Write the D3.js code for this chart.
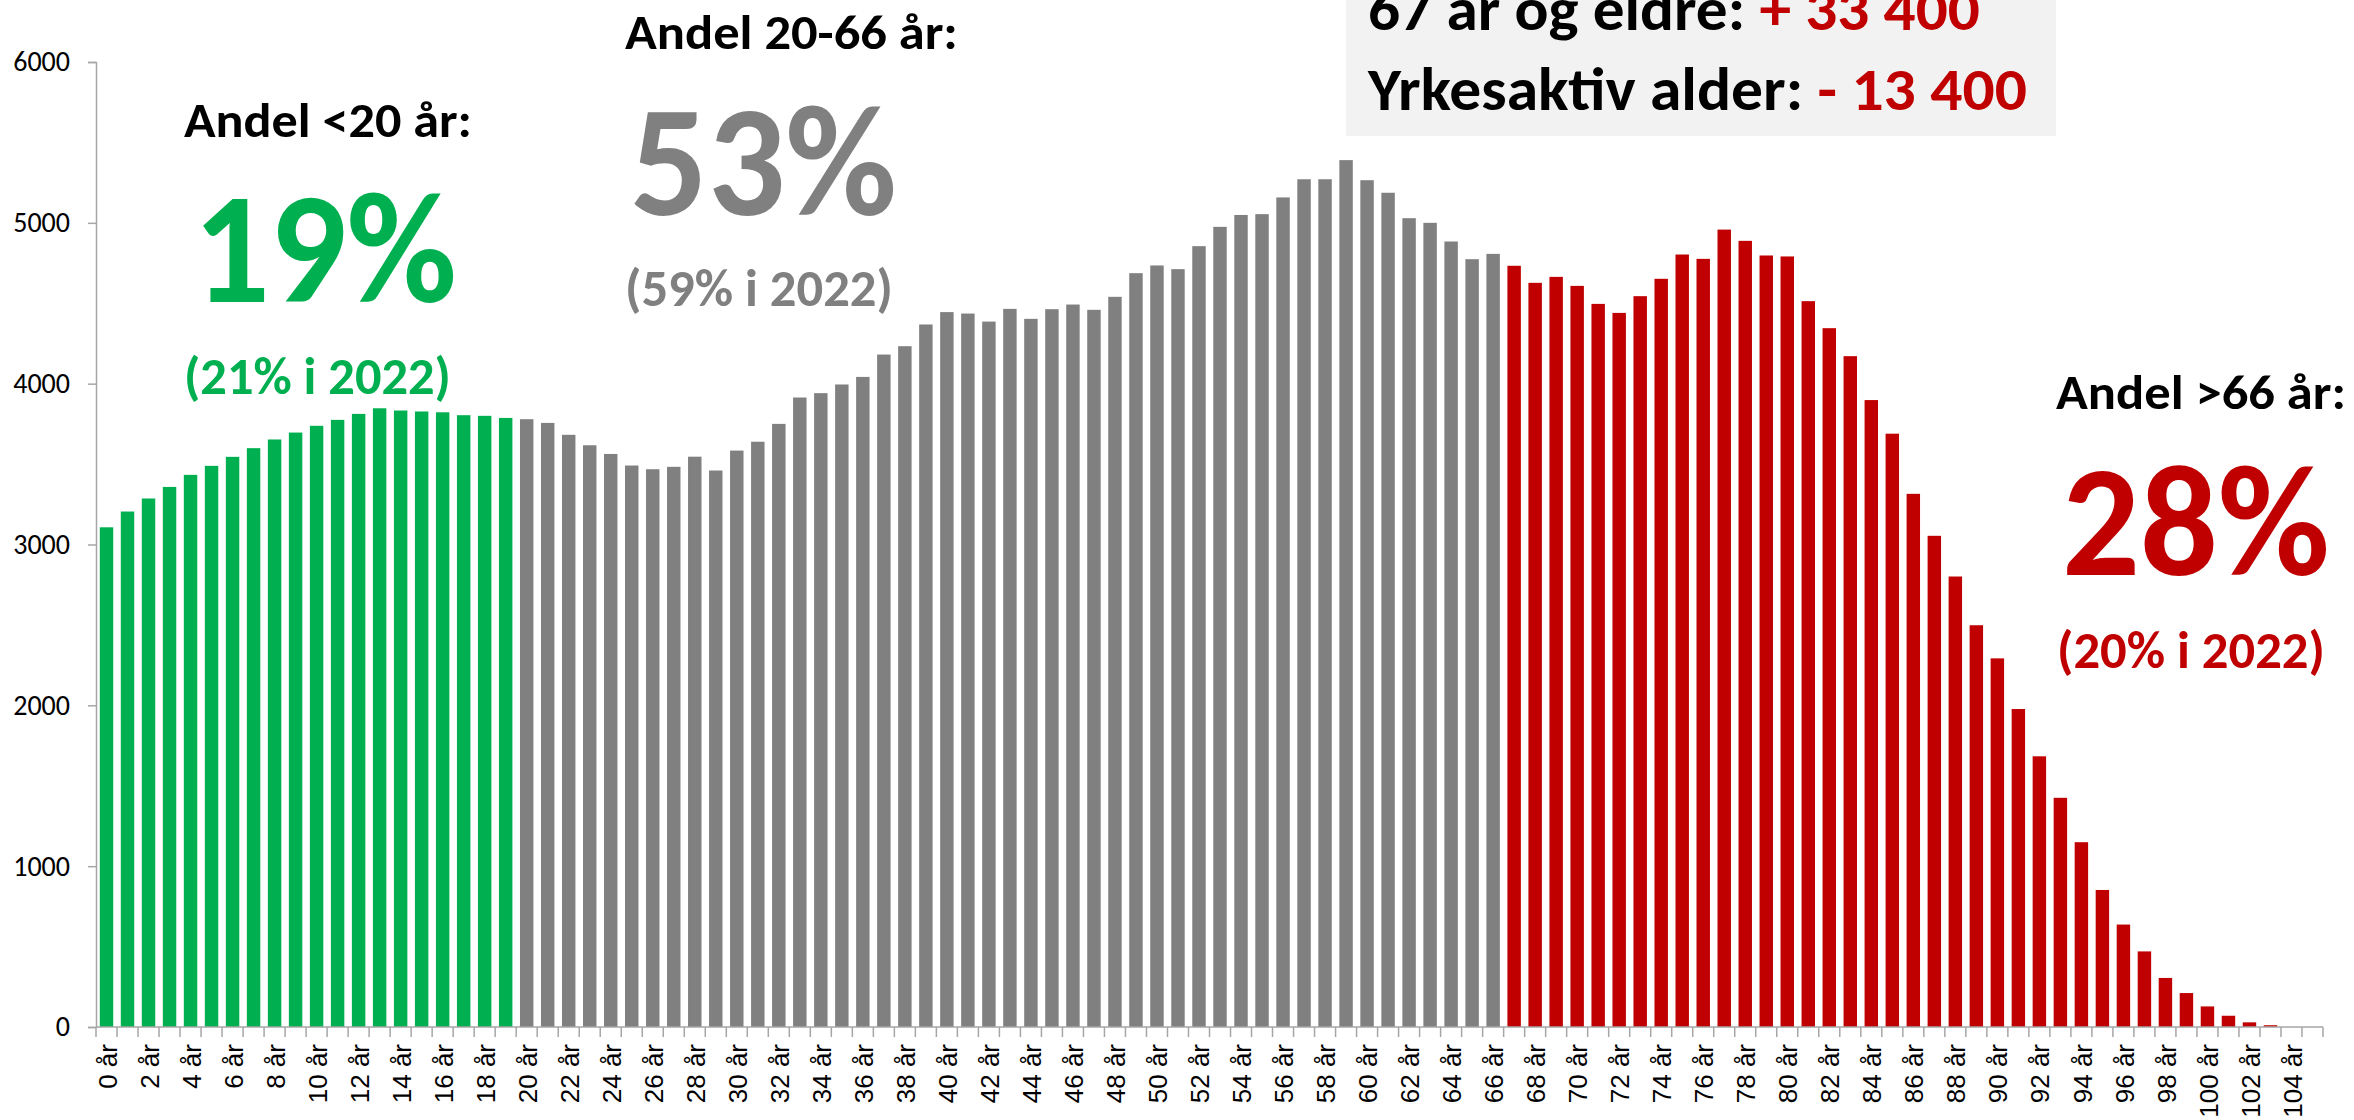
<!DOCTYPE html>
<html>
<head>
<meta charset="utf-8">
<script src="https://cdn.jsdelivr.net/npm/d3@7"></script>
<style>
  body { margin: 0; background: #fff; }
  svg { display: block; }
</style>
</head>
<body>
<script>
// befolkning etter alder (ettårig), lest av figuren
var ages = d3.range(0, 106);
var persons = [
  3107, 3205, 3286, 3358, 3433, 3489, 3545, 3599, 3653, 3696,
  3738, 3775, 3812, 3847, 3833, 3827, 3822, 3804, 3800, 3787,
  3779, 3756, 3682, 3617, 3563, 3491, 3468, 3483, 3546, 3460,
  3584, 3639, 3750, 3914, 3941, 3995, 4042, 4181, 4233, 4368,
  4445, 4436, 4386, 4465, 4403, 4463, 4492, 4459, 4540, 4687,
  4735, 4712, 4855, 4975, 5049, 5054, 5158, 5271, 5271, 5390,
  5265, 5187, 5029, 5000, 4884, 4774, 4807, 4733, 4627, 4664,
  4608, 4496, 4440, 4544, 4652, 4803, 4776, 4958, 4888, 4797,
  4791, 4513, 4345, 4171, 3898, 3689, 3315, 3054, 2801, 2498,
  2292, 1977, 1683, 1425, 1149, 852, 637, 470, 305, 211,
  128, 70, 29, 11, 0, 0
];
var yTicks = [0, 1000, 2000, 3000, 4000, 5000, 6000];
var groupLimits = [20, 67];            // <20, 20-66, 67+
var groupColors = ["#00b050", "#808080", "#c00000"];

var width = 2354, height = 1120;
var margin = {top: 62, right: 31, bottom: 93, left: 96};

var svg = d3.select("body").append("svg")
  .attr("width", width)
  .attr("height", height);

var xScale = d3.scaleBand()
  .domain(ages)
  .range([margin.left, width - margin.right])
  .paddingInner(0.36)
  .paddingOuter(0.18);
var yScale = d3.scaleLinear()
  .domain([0, 6000])
  .range([height - margin.bottom, margin.top]);
var cScale = d3.scaleThreshold().domain(groupLimits).range(groupColors);

// stolper
svg.append("g")
  .selectAll("rect")
  .data(persons)
  .enter()
  .append("rect")
  .attr("x", function(d, i) { return xScale(ages[i]); })
  .attr("width", xScale.bandwidth())
  .attr("y", function(d) { return yScale(d); })
  .attr("height", function(d) { return yScale(0) - yScale(d); })
  .attr("fill", function(d, i) { return cScale(ages[i]); });

// y-akse
var yAxis = svg.append("g")
  .attr("transform", "translate(" + margin.left + ",0)")
  .call(d3.axisLeft(yScale).tickValues(yTicks).tickSize(8).tickPadding(18).tickFormat(d3.format("d")));
yAxis.selectAll("path, line").attr("stroke", "#a6a6a6").attr("stroke-width", 1.5);
yAxis.selectAll("text")
  .attr("font-family", "Carlito, 'Liberation Sans Narrow', 'Noto Sans', sans-serif")
  .attr("font-size", 28)
  .attr("fill", "#000");

// x-akse: streker mellom kategoriene
var x0 = margin.left, x1 = width - margin.right, y0 = yScale(0);
var xAxis = svg.append("g");
xAxis.append("line")
  .attr("x1", x0).attr("x2", x1).attr("y1", y0).attr("y2", y0)
  .attr("stroke", "#a6a6a6").attr("stroke-width", 1.5);
xAxis.selectAll("line.tick")
  .data(d3.range(0, ages.length + 1))
  .enter()
  .append("line")
  .attr("class", "tick")
  .attr("x1", function(d) { return x0 + d * (x1 - x0) / ages.length; })
  .attr("x2", function(d) { return x0 + d * (x1 - x0) / ages.length; })
  .attr("y1", y0).attr("y2", y0 + 10)
  .attr("stroke", "#a6a6a6").attr("stroke-width", 1.5);
xAxis.selectAll("text")
  .data(ages.filter(function(a) { return a % 2 === 0; }))
  .enter()
  .append("text")
  .attr("transform", function(d) {
    return "translate(" + (xScale(d) + xScale.bandwidth() / 2 + 1) + "," + (y0 + 17) + ") rotate(-90)";
  })
  .attr("text-anchor", "end")
  .attr("dy", "0.35em")
  .attr("font-family", "'Liberation Sans', Arial, sans-serif")
  .attr("font-size", 26)
  .attr("fill", "#000")
  .text(function(d) { return d + " år"; });

// boks øverst
svg.append("rect")
  .attr("x", 1346).attr("y", -10)
  .attr("width", 710).attr("height", 146)
  .attr("fill", "#f2f2f2");

var boxLines = [
  ["67 år og eldre: ", "+ 33 400"],
  ["Yrkesaktiv alder: ", "- 13 400"]
];
var boxLayout = [
  {x: 1368, y: 30, w: 612},
  {x: 1368, y: 110, w: 659}
];

var labels = [
  "Andel <20 år:", "19%", "(21% i 2022)",
  "Andel 20-66 år:", "53%", "(59% i 2022)",
  "Andel >66 år:", "28%", "(20% i 2022)"
];
var labelLayout = [
  {x: 184, y: 137, w: 288, size: 48, color: "#000"},
  {x: 193, y: 302, w: 264, size: 158, color: groupColors[0]},
  {x: 184, y: 394, w: 267, size: 52, color: groupColors[0]},
  {x: 625, y: 49, w: 333, size: 48, color: "#000"},
  {x: 630, y: 215, w: 267, size: 158, color: groupColors[1]},
  {x: 625, y: 306, w: 268, size: 52, color: groupColors[1]},
  {x: 2056, y: 409, w: 290, size: 48, color: "#000"},
  {x: 2062, y: 575, w: 268, size: 158, color: groupColors[2]},
  {x: 2057, y: 668, w: 268, size: 52, color: groupColors[2]}
];

var font = "Carlito, Lato, 'Open Sans', sans-serif";

// strekk/krymp tekst til ønsket bredde
function fit(sel, x, w) {
  var actual = sel.node().getComputedTextLength();
  var k = w / actual;
  sel.attr("transform", "translate(" + x + ",0) scale(" + k + ",1) translate(" + (-x) + ",0)");
}

labels.forEach(function(t, i) {
  var L = labelLayout[i];
  var txt = svg.append("text")
    .attr("x", L.x).attr("y", L.y)
    .attr("font-family", font)
    .attr("font-weight", "bold")
    .attr("font-size", L.size)
    .attr("fill", L.color)
    .text(t);
  fit(txt, L.x, L.w);
});

boxLines.forEach(function(parts, i) {
  var L = boxLayout[i];
  var txt = svg.append("text")
    .attr("x", L.x).attr("y", L.y)
    .attr("font-family", font)
    .attr("font-weight", "bold")
    .attr("font-size", 61);
  txt.append("tspan").attr("fill", "#000").text(parts[0]);
  txt.append("tspan").attr("fill", groupColors[2]).text(parts[1]);
  fit(txt, L.x, L.w);
});
</script>
</body>
</html>
